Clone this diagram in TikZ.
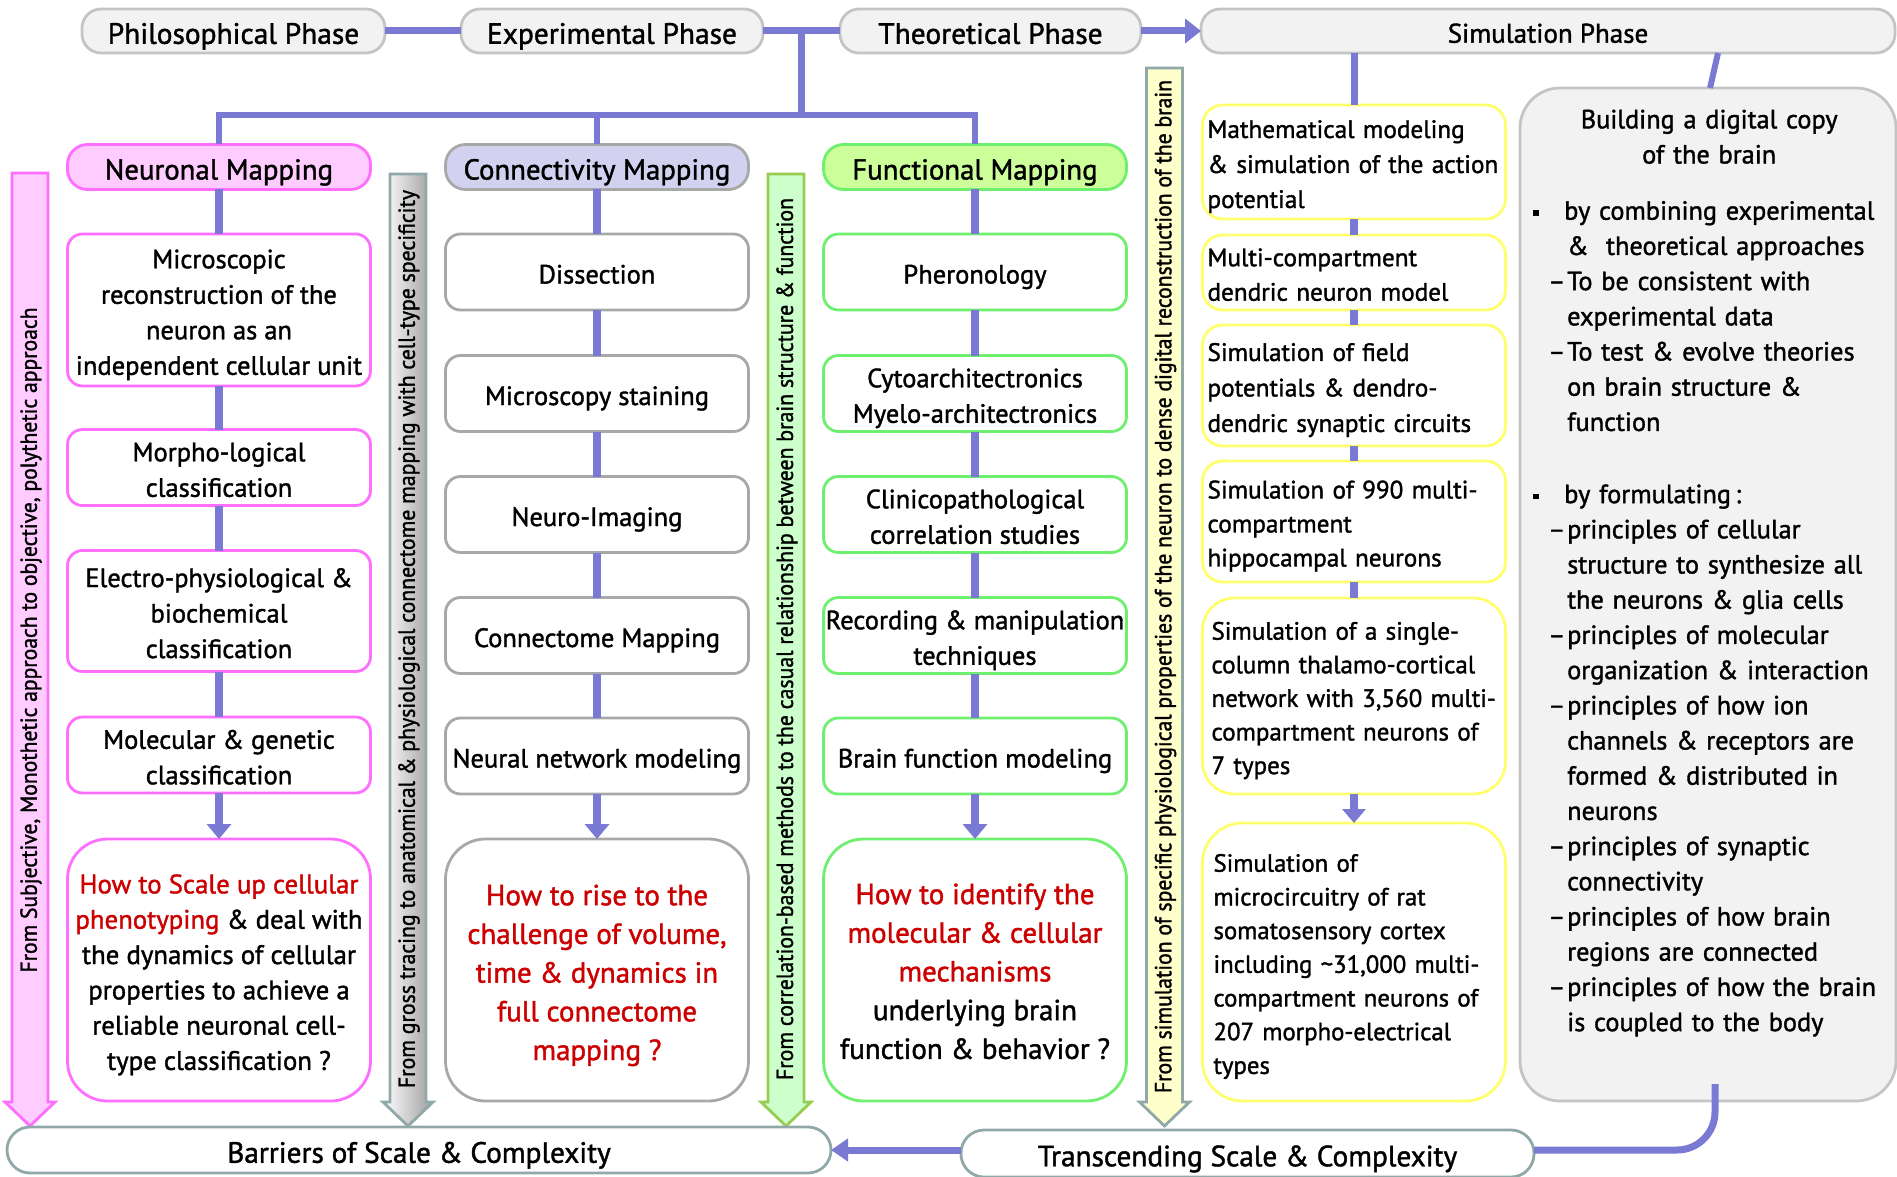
\documentclass[tikz,border=0pt]{standalone}
\usepackage{fontspec}
\setmainfont{PT Sans}[FakeBold=1.4]
\usepackage{graphicx}
\usetikzlibrary{arrows.meta,calc}

\definecolor{connC}{RGB}{122,122,212}
\definecolor{phaseF}{RGB}{242,242,242}
\definecolor{phaseB}{RGB}{196,196,196}
\definecolor{pinkB}{RGB}{255,110,255}
\definecolor{pinkF}{RGB}{255,204,255}
\definecolor{lavF}{RGB}{210,210,240}
\definecolor{grayB}{RGB}{168,168,168}
\definecolor{grnB}{RGB}{110,240,110}
\definecolor{grnF}{RGB}{204,255,153}
\definecolor{yelB}{RGB}{255,255,110}
\definecolor{tealB}{RGB}{144,168,168}
\definecolor{sgrnF}{RGB}{204,255,204}
\definecolor{sgrnB}{RGB}{150,205,80}
\definecolor{syelF}{RGB}{255,255,204}
\definecolor{howR}{RGB}{204,0,0}

\newcommand\fsBody{\fontsize{26.5}{35.5}\selectfont}
\newcommand\fsHead{\fontsize{28.8}{32}\selectfont}
\newcommand\fsPhase{\fontsize{29.4}{32}\selectfont}
\newcommand\fsBot{\fontsize{29.3}{32}\selectfont}
\newcommand\fsHow{\fontsize{29}{38.7}\selectfont}
\newcommand\fsHowA{\fontsize{26.8}{35.3}\selectfont}
\newcommand\fsRight{\fontsize{26.3}{35.2}\selectfont}
\newcommand\rd[1]{\textcolor{howR}{#1}}
\newcommand\fl{\rule{0pt}{1.12em}}
\newcommand\fd{\rule[-0.25em]{0pt}{0pt}}
\newcommand\Lb{\makebox[31pt][l]{\rule[4pt]{5.5pt}{5.5pt}}}
\newcommand\Ld{\makebox[34pt][l]{\hspace{15pt}–}}
\newcommand\Li{\hspace*{34pt}}
\newcommand\sidebar[3]{\draw[#3] (#1-18,#2) -- (#1+18,#2) -- (#1+18,1102) -- (#1+25,1102) -- (#1,1126) -- (#1-25,1102) -- (#1-18,1102) -- cycle;}

\begin{document}
\begin{tikzpicture}[x=1pt,y=-1pt,
  nbox/.style={draw, line width=2.8pt, outer sep=0pt, inner sep=0pt, align=center, font=\fsBody, fill=white, execute at begin node={\fl}, execute at end node={\fd}},
  nphase/.style={nbox, draw=phaseB, fill=phaseF, rounded corners=19pt, minimum height=44pt, font=\fsPhase, execute at begin node={\rule{0pt}{0.86em}}},
  nhdr/.style={nbox, rounded corners=20pt, minimum width=303pt, minimum height=45pt, font=\fsHead, execute at begin node={\rule{0pt}{0.93em}}},
  nitem/.style={nbox, rounded corners=15pt, minimum width=303pt, minimum height=76pt},
  nhow/.style={nbox, rounded corners=40pt, minimum width=303pt, minimum height=262pt, font=\fsHow},
  nsim/.style={nbox, draw=yelB, rounded corners=20pt, align=left, inner xsep=5pt, text width=293pt},
  nbar/.style={nbox, draw=tealB, rounded corners=23pt, font=\fsBot, execute at begin node={\rule{0pt}{0.88em}}},
  nlink/.style={draw=connC, line width=7.5pt},
  nhead/.style={-{Triangle[width=24pt,length=15pt]}},
  sidetxt/.style={rotate=90, inner sep=0pt},
  sbar/.style={line width=2.8pt}
]
\useasboundingbox (0,0) rectangle (1897,1177);

% ---------- side arrows
\sidebar{30}{173}{sbar, draw=pinkB, fill=pinkF}
\sidebar{408}{174}{sbar, draw=tealB, left color=white, right color=black!38}
\sidebar{786}{174}{sbar, draw=sgrnB, fill=sgrnF}
\sidebar{1164.5}{68}{sbar, draw=tealB, fill=syelF}
\node[sidetxt] (tp) at (31,640) {\resizebox{665pt}{16.5pt}{From Subjective, Monothetic approach to objective, polythetic approach}};
\node[sidetxt] (tg) at (409,639) {\resizebox{898pt}{16.5pt}{From gross tracing to anatomical \& physiological connectome mapping with cell-type specificity}};
\node[sidetxt] (tn) at (787,639) {\resizebox{882pt}{16.5pt}{From correlation-based methods to the casual relationship between brain structure \& function}};
\node[sidetxt] (ty) at (1165.5,586.5) {\resizebox{1013pt}{16.5pt}{From simulation of specific physiological properties of the neuron to dense digital reconstruction of the brain}};

% ---------- phases
\node[nphase, minimum width=303pt] (phil) at (233.5,31) {Philosophical Phase};
\node[nphase, minimum width=302pt] (exp) at (612,31) {Experimental Phase};
\node[nphase, minimum width=301pt] (theo) at (990.5,31) {Theoretical Phase};
\node[nphase, minimum width=694pt, font=\fontsize{27}{32}\selectfont] (sim) at (1548,31) {Simulation Phase};

% ---------- headers
\node[nhdr, draw=pinkB, fill=pinkF] (neu) at (219,167) {Neuronal Mapping};
\node[nhdr, draw=grayB, fill=lavF] (con) at (597,167) {Connectivity Mapping};
\node[nhdr, draw=grnB, fill=grnF] (fun) at (975,167) {Functional Mapping};

% ---------- column 1
\node[nitem, draw=pinkB, minimum height=152pt] (n1) at (219,310) {\fl Microscopic\\reconstruction of the\\neuron as an\\independent cellular unit};
\node[nitem, draw=pinkB] (n2) at (219,467.5) {\fl Morpho-logical\\classification};
\node[nitem, draw=pinkB, minimum height=121pt] (n3) at (219,611) {\fl Electro-physiological \&\\biochemical\\classification};
\node[nitem, draw=pinkB] (n4) at (219,755) {\fl Molecular \& genetic\\classification};
\node[nhow, draw=pinkB, font=\fsHowA] (n5) at (219,970) {\fl\rd{How to Scale up cellular}\\\rd{phenotyping} \& deal with\\the dynamics of cellular\\properties to achieve a\\reliable neuronal cell-\\type classification ?};

% ---------- column 2
\node[nitem, draw=grayB] (c1) at (597,272) {Dissection};
\node[nitem, draw=grayB] (c2) at (597,393.5) {Microscopy staining};
\node[nitem, draw=grayB] (c3) at (597,514.5) {Neuro-Imaging};
\node[nitem, draw=grayB] (c4) at (597,635.5) {Connectome Mapping};
\node[nitem, draw=grayB] (c5) at (597,756) {Neural network modeling};
\node[nhow, draw=grayB] (c6) at (597,970) {\fl\rd{How to rise to the}\\\rd{challenge of volume,}\\\rd{time \& dynamics in}\\\rd{full connectome}\\\rd{mapping ?}};

% ---------- column 3
\node[nitem, draw=grnB] (f1) at (975,272) {Pheronology};
\node[nitem, draw=grnB] (f2) at (975,393.5) {\fl Cytoarchitectronics\\Myelo-architectronics};
\node[nitem, draw=grnB] (f3) at (975,514.5) {\fl Clinicopathological\\correlation studies};
\node[nitem, draw=grnB] (f4) at (975,635.5) {\fl Recording \& manipulation\\techniques};
\node[nitem, draw=grnB] (f5) at (975,756) {Brain function modeling};
\node[nhow, draw=grnB] (f6) at (975,970) {\rule{0pt}{1.04em}\rd{How to identify the}\\\rd{molecular \& cellular}\\\rd{mechanisms}\\underlying brain\\function \& behavior ?};

% ---------- column 4
\node[nsim, minimum height=114pt, font=\fontsize{25.2}{35}\selectfont] (s1) at (1354,162) {Mathematical modeling\\\& simulation of the action\\potential};
\node[nsim, minimum height=75pt, font=\fontsize{25.2}{34.5}\selectfont] (s2) at (1354,272.5) {Multi-compartment\\dendric neuron model};
\node[nsim, minimum height=121pt, font=\fontsize{25.2}{35.5}\selectfont] (s3) at (1354,385.5) {Simulation of field\\potentials \& dendro-\\dendric synaptic circuits};
\node[nsim, minimum height=121pt, font=\fontsize{25.2}{34}\selectfont] (s4) at (1354,521.5) {Simulation of 990 multi-\\compartment\\hippocampal neurons};
\node[nsim, minimum height=196pt, rounded corners=32pt, inner xsep=9pt, text width=285pt, font=\fontsize{25}{33.6}\selectfont] (s5) at (1354,696) {Simulation of a single-\\column thalamo-cortical\\network with 3,560 multi-\\compartment neurons of\\7 types};
\node[nsim, minimum height=278pt, rounded corners=40pt, inner xsep=11pt, text width=281pt, font=\fontsize{24.8}{33.7}\selectfont] (s6) at (1354,962) {Simulation of\\microcircuitry of rat\\somatosensory cortex\\including \textasciitilde31,000 multi-\\compartment neurons of\\207 morpho-electrical\\types};

% ---------- right box
\node[nbox, draw=phaseB, fill=phaseF, rounded corners=40pt, minimum width=376pt, minimum height=1013pt] (rbox) at (1708,594.5) {};
\node[anchor=north west, inner sep=0pt, text width=352pt, align=left, font=\fsRight] (rtext) at (1533,109.5) {\parindent=0pt{\centering Building a digital copy\\of the brain\par}\vspace{21pt}%
\Lb by combining experimental\\
\Li\& \ theoretical approaches\\
\Ld To be consistent with\\
\Li experimental data\\
\Ld To test \& evolve theories\\
\Li on brain structure \&\\
\Li function\\[37pt]
\Lb by formulating\,:\\
\Ld principles of cellular\\
\Li structure to synthesize all\\
\Li the neurons \& glia cells\\
\Ld principles of molecular\\
\Li organization \& interaction\\
\Ld principles of how ion\\
\Li channels \& receptors are\\
\Li formed \& distributed in\\
\Li neurons\\
\Ld principles of synaptic\\
\Li connectivity\\
\Ld principles of how brain\\
\Li regions are connected\\
\Ld principles of how the brain\\
\Li is coupled to the body};

% ---------- bottom
\node[nbar, minimum width=824pt, minimum height=46pt] (barr) at (419,1150) {Barriers of Scale \& Complexity};
\node[nbar, minimum width=573pt, minimum height=47pt] (trans) at (1247.5,1153.5) {Transcending Scale \& Complexity};

% ---------- connectors
\draw[nlink, line width=7pt] (phil) -- (exp);
\draw[nlink, line width=7pt] (exp) -- (theo);
\draw[nlink, line width=7pt, -{Triangle[width=24pt,length=16pt]}] (theo) -- (sim);
\coordinate (hub) at ($(exp.east)!0.5!(theo.west)$);
\coordinate (bar) at (0,115);
\draw[nlink, line width=6.5pt] (hub) -- (hub |- bar);
\draw[nlink, line width=6.5pt] (neu.north) -- (neu.north |- bar) -- (fun.north |- bar) -- (fun.north);
\draw[nlink, line width=6.5pt] (con.north |- bar) -- (con.north);

\draw[nlink] (neu) -- (n1);
\draw[nlink] (n1) -- (n2);
\draw[nlink] (n2) -- (n3);
\draw[nlink] (n3) -- (n4);
\draw[nlink, nhead] (n4) -- (n5);

\draw[nlink] (con) -- (c1);
\draw[nlink] (c1) -- (c2);
\draw[nlink] (c2) -- (c3);
\draw[nlink] (c3) -- (c4);
\draw[nlink] (c4) -- (c5);
\draw[nlink, nhead] (c5) -- (c6);

\draw[nlink] (fun) -- (f1);
\draw[nlink] (f1) -- (f2);
\draw[nlink] (f2) -- (f3);
\draw[nlink] (f3) -- (f4);
\draw[nlink] (f4) -- (f5);
\draw[nlink, nhead] (f5) -- (f6);

\draw[nlink, line width=7pt] (s1.north |- sim.south) -- (s1.north);
\draw[nlink] (s1) -- (s2);
\draw[nlink] (s2) -- (s3);
\draw[nlink] (s3) -- (s4);
\draw[nlink] (s4) -- (s5);
\draw[nlink, -{Triangle[width=23pt,length=14pt]}] (s5) -- (s6);

\draw[nlink, line width=6pt] ([xshift=170pt]sim.south) -- ([xshift=2pt]rbox.north);
\coordinate (rb) at ([xshift=7pt,yshift=17pt]rbox.south);
\draw[nlink, line width=7pt, rounded corners=38pt] (rb) -- (rb |- barr.east) -- (trans.east |- barr.east);
\draw[nlink, line width=7pt, -{Triangle[width=22pt,length=17pt]}] (trans.west |- barr.east) -- (barr.east);
\end{tikzpicture}
\end{document}
